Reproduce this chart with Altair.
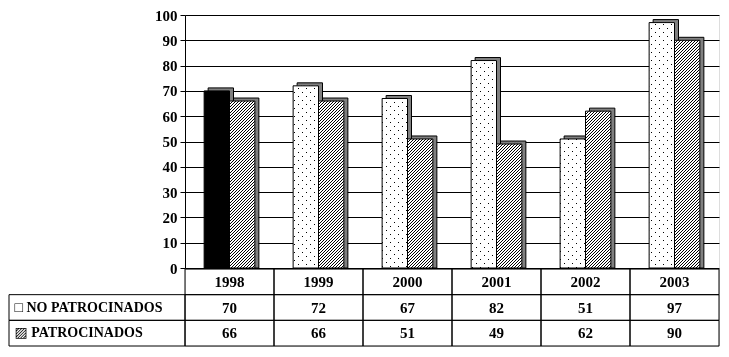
import altair as alt
import pandas as pd

years = ["1998", "1999", "2000", "2001", "2002", "2003"]
no_patrocinados = [70, 72, 67, 82, 51, 97]
patrocinados = [66, 66, 51, 49, 62, 90]
series = ["NO PATROCINADOS", "PATROCINADOS"]
y_ticks = [0, 10, 20, 30, 40, 50, 60, 70, 80, 90, 100]
table_rows = ["header", "NO PATROCINADOS", "PATROCINADOS"]

bar_rows = []
for i, yr in enumerate(years):
    bar_rows.append({"year": yr, "serie": series[0], "value": no_patrocinados[i]})
    bar_rows.append({"year": yr, "serie": series[1], "value": patrocinados[i]})
bars = pd.DataFrame(bar_rows)

cell_rows = []
for i, yr in enumerate(years):
    cell_rows.append({"year": yr, "row": "header", "text": yr})
    cell_rows.append({"year": yr, "row": series[0], "text": str(no_patrocinados[i])})
    cell_rows.append({"year": yr, "row": series[1], "text": str(patrocinados[i])})
cells = pd.DataFrame(cell_rows)
labels_df = pd.DataFrame({"row": series})

FONT = "Liberation Serif, Times New Roman, DejaVu Serif, serif"
W = 534
H = 253
P_IN = 0.43
STEP = W / len(years)
BAND = STEP * (1 - P_IN)
BAR_W = BAND / 2


def stripe_stops(length, period, width, bg="white", fg="black"):
    stops = [{"offset": 0, "color": bg}]
    pos = 0.0
    last = 0.0
    while pos < length:
        a = max(round(pos / length, 6), last)
        b = min(round((pos + width) / length, 6), 1)
        stops += [{"offset": a, "color": bg}, {"offset": a, "color": fg},
                  {"offset": b, "color": fg}, {"offset": b, "color": bg}]
        last = b
        pos += period
    stops.append({"offset": 1, "color": bg})
    return stops


def diag_gradient(w, h, period, width, rising=True):
    L = w + h
    c = (w + h) / (w * w + h * h)
    if rising:
        x1, y1, x2, y2 = 0, 0, c * w, c * h
    else:
        x1, y1, x2, y2 = 0, 1, c * w, 1 - c * h
    return {"gradient": "linear", "x1": x1, "y1": y1, "x2": round(x2, 6), "y2": round(y2, 6),
            "stops": stripe_stops(L, period, width)}


x_top = alt.X("year:N", sort=years,
              scale=alt.Scale(paddingInner=P_IN, paddingOuter=P_IN / 2), axis=None)


def xo(shift=0):
    return alt.XOffset("serie:N", sort=series,
                       scale=alt.Scale(domain=series, range=[shift, BAND + shift],
                                       paddingInner=0, paddingOuter=0))


y_top = alt.Y("value:Q", stack=None, scale=alt.Scale(domain=[0, 100]),
              axis=alt.Axis(values=y_ticks, title=None, grid=True, gridColor="black",
                            gridOpacity=1, gridWidth=1, domainColor="black",
                            tickColor="black", tickSize=5, labelPadding=3,
                            labelFont=FONT, labelFontSize=15, labelFontWeight="bold",
                            labelColor="black"))

base = alt.Chart(bars)

layers = []
# 3-D depth (offset shadow)
layers.append(base.mark_bar(fill="#808080", stroke="black", strokeWidth=1,
                            yOffset=-3, y2Offset=-3).encode(x=x_top, xOffset=xo(4), y=y_top))


def one_bar(yr, s):
    return base.transform_filter(f"datum.year == '{yr}' && datum.serie == '{s}'")


for i, yr in enumerate(years):
    # NO PATROCINADOS: solid black in 1998, dotted otherwise
    v = no_patrocinados[i]
    h = v * H / 100
    if i == 0:
        layers.append(one_bar(yr, series[0]).mark_bar(fill="black").encode(
            x=x_top, xOffset=xo(), y=y_top))
    else:
        layers.append(one_bar(yr, series[0]).mark_bar(
            fill=diag_gradient(BAR_W, h, 8, 1, True)).encode(x=x_top, xOffset=xo(), y=y_top))
        layers.append(one_bar(yr, series[0]).mark_bar(
            fill=diag_gradient(BAR_W, h, 8, 2, False), blend="lighten").encode(
            x=x_top, xOffset=xo(), y=y_top))
    # PATROCINADOS: diagonal hatch
    v2 = patrocinados[i]
    h2 = v2 * H / 100
    layers.append(one_bar(yr, series[1]).mark_bar(
        fill=diag_gradient(BAR_W, h2, 3, 1, True)).encode(x=x_top, xOffset=xo(), y=y_top))

# outlines
layers.append(base.mark_bar(fillOpacity=0, stroke="black", strokeWidth=1).encode(
    x=x_top, xOffset=xo(), y=y_top))

top = alt.layer(*layers).resolve_scale(xOffset="independent").properties(width=W, height=H)

x_tab = alt.X("year:N", sort=years, scale=alt.Scale(paddingInner=0, paddingOuter=0), axis=None)
y_tab = alt.Y("row:N", sort=table_rows, scale=alt.Scale(domain=table_rows, paddingInner=0, paddingOuter=0),
              axis=alt.Axis(title=None, ticks=False, tickSize=0, domain=False,
                            labelAlign="left", labelPadding=171,
                            labelFont=FONT, labelFontSize=14, labelFontWeight="bold",
                            labelColor="black",
                            labelExpr="datum.value == 'header' ? '' : (datum.value == 'PATROCINADOS' ? '▨ ' : '□ ') + datum.value"))

cell_rect = alt.Chart(cells).mark_rect(fillOpacity=0, stroke="black", strokeWidth=1).encode(
    x=x_tab, y=y_tab)
cell_text = alt.Chart(cells).mark_text(font=FONT, fontSize=15, fontWeight="bold", color="black").encode(
    x=x_tab, y=y_tab, text="text:N")
label_box = alt.Chart(labels_df).mark_rect(fillOpacity=0, stroke="black", strokeWidth=1).encode(
    x=alt.value(-176), x2=alt.value(0), y=y_tab)

table = alt.layer(cell_rect, label_box, cell_text).properties(width=W, height=77)

chart = alt.vconcat(top, table, spacing=1, bounds="flush").properties(
    padding={"left": 8, "top": 7, "right": 5, "bottom": 5}
).configure_view(stroke="black", strokeWidth=1).configure(background="white")

chart.save("out.html", embed_options={"renderer": "svg", "actions": False})
